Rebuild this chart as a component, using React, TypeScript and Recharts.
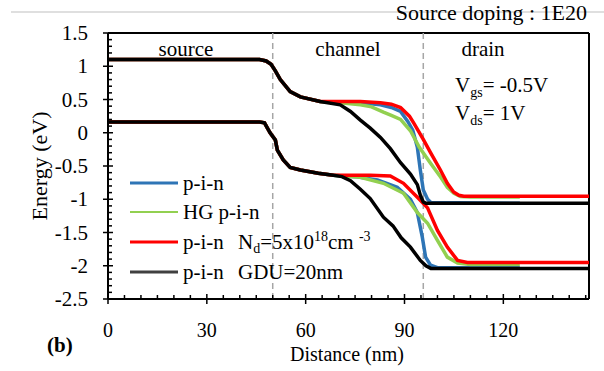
import { LineChart, Line, XAxis, YAxis, ReferenceLine } from "recharts";

const FONT = '"Liberation Serif", "Times New Roman", serif';

// distance (nm), energy (eV)
const cbShared = [[0, 1.1], [46, 1.1], [48, 1.08], [49.5, 1.03], [50.8, 0.93], [52.3, 0.8], [55.3, 0.62], [58.4, 0.54], [64.4, 0.47]];
const cbBlue = [[70.5, 0.46], [76.6, 0.45], [82.7, 0.42], [86, 0.38], [88.8, 0.32], [91, 0.17], [92.5, 0.04], [93.9, -0.22], [94.8, -0.56], [95.7, -0.86], [97, -1.0], [98, -1.05], [125, -1.06]];
const cbGreen = [[70.5, 0.45], [76.6, 0.42], [80, 0.39], [83.6, 0.31], [86, 0.26], [88.8, 0.2], [91.8, 0.03], [94.5, -0.22], [97.9, -0.46], [101, -0.67], [103, -0.82], [105, -0.91], [107, -0.96], [110, -0.965], [125, -0.965]];
const cbRed = [[70.5, 0.47], [76.6, 0.47], [82.7, 0.45], [86, 0.43], [88.8, 0.38], [91.5, 0.25], [93, 0.13], [95.7, -0.1], [97.9, -0.3], [100.9, -0.56], [103, -0.76], [104.9, -0.89], [106.5, -0.94], [108, -0.955], [146, -0.955]];
const cbBlack = [[70.5, 0.42], [73.6, 0.32], [76.6, 0.19], [79.6, 0.07], [82.7, -0.07], [85.7, -0.24], [88.8, -0.45], [91.8, -0.62], [93.9, -0.78], [94.8, -0.94], [95.7, -1.04], [96.5, -1.06], [146, -1.06]];

const vbShared = [[0, 0.16], [46, 0.16], [47.5, 0.15], [49.2, 0.0], [50.8, -0.11], [51.4, -0.26], [53.2, -0.41], [55.3, -0.52], [58.4, -0.56], [63.8, -0.61], [68.4, -0.64]];
const vbBlue = [[75, -0.66], [81.8, -0.71], [87.8, -0.82], [91.8, -1.0], [93.9, -1.2], [95.4, -1.57], [96.4, -1.87], [97.9, -1.99], [100, -2.03], [125, -2.03]];
const vbGreen = [[76.6, -0.67], [83.6, -0.76], [89.7, -0.91], [93.9, -1.2], [97, -1.36], [100, -1.62], [103, -1.87], [106.1, -1.96], [110, -1.98], [125, -1.98]];
const vbRed = [[73.6, -0.64], [79.6, -0.64], [85.7, -0.65], [89.7, -0.76], [93.9, -0.97], [97, -1.13], [100, -1.47], [103, -1.72], [106.1, -1.92], [109.1, -1.95], [146, -1.95]];
const vbBlack = [[71, -0.66], [73.6, -0.72], [76.6, -0.85], [79.6, -0.99], [83.6, -1.27], [86.5, -1.4], [89, -1.58], [91.8, -1.72], [94.8, -1.92], [96.5, -2.0], [98, -2.04], [146, -2.04]];

const regionEdges = [50, 95.7];
const xMajor = [0, 30, 60, 90, 120];
const yMajor = [-2.5, -2, -1.5, -1, -0.5, 0, 0.5, 1, 1.5];

const xTicks = Array.from({ length: 30 }, (_, i) => i * 5);
const yTicks = Array.from({ length: 41 }, (_, i) => Math.round((-2.5 + i * 0.1) * 10) / 10);

const pts = (...parts: number[][][]) => parts.flat().map(([d, e]) => ({ d, e }));

const series = [
  { key: "cb-blue", data: pts(cbShared, cbBlue), color: "#2e75b6" },
  { key: "vb-blue", data: pts(vbShared, vbBlue), color: "#2e75b6" },
  { key: "cb-green", data: pts(cbShared, cbGreen), color: "#92d050" },
  { key: "vb-green", data: pts(vbShared, vbGreen), color: "#92d050" },
  { key: "cb-red", data: pts(cbShared, cbRed), color: "#ff0000" },
  { key: "vb-red", data: pts(vbShared, vbRed), color: "#ff0000" },
  { key: "cb-black", data: pts(cbShared, cbBlack), color: "#000000" },
  { key: "vb-black", data: pts(vbShared, vbBlack), color: "#000000" },
];

function XTick({ x, y, payload }: any) {
  const v = payload.value;
  if (!xMajor.includes(v)) {
    return <line x1={x} x2={x} y1={y - 4} y2={y} stroke="#000" strokeWidth={1.5} />;
  }
  return (
    <g>
      <line x1={x} x2={x} y1={y - 5} y2={y + 5} stroke="#000" strokeWidth={1.5} />
      <text x={x} y={y + 38} textAnchor="middle" fontFamily={FONT} fontSize={20} fill="#000">
        {v}
      </text>
    </g>
  );
}

function YTick({ x, y, payload }: any) {
  const v = payload.value;
  if (!yMajor.includes(v)) {
    return <line x1={x} x2={x + 4} y1={y} y2={y} stroke="#000" strokeWidth={1.5} />;
  }
  return (
    <g>
      <line x1={x - 5} x2={x + 5} y1={y} y2={y} stroke="#000" strokeWidth={1.5} />
      <text x={x - 20} y={y + 7} textAnchor="end" fontFamily={FONT} fontSize={21} fill="#000">
        {v}
      </text>
    </g>
  );
}

const legendRows = [
  { y: 183, color: "#2e75b6", width: 3 },
  { y: 212, color: "#92d050", width: 2 },
  { y: 242, color: "#ff0000", width: 3 },
  { y: 272, color: "#404040", width: 3 },
];

export default function App() {
  return (
    <div style={{ position: "absolute", left: 0, top: 0, width: 604, height: 371, background: "#fff" }}>
      <LineChart width={604} height={371} margin={{ top: 33, right: 15, bottom: 40, left: 0 }}>
        <XAxis
          dataKey="d"
          type="number"
          domain={[0, 146]}
          ticks={xTicks}
          interval={0}
          allowDataOverflow
          height={32}
          tickSize={0}
          tickMargin={0}
          tickLine={false}
          axisLine={{ stroke: "#000", strokeWidth: 2 }}
          tick={<XTick />}
        />
        <YAxis
          dataKey="e"
          type="number"
          domain={[-2.5, 1.5]}
          ticks={yTicks}
          interval={0}
          allowDataOverflow
          width={108}
          tickSize={0}
          tickMargin={0}
          tickLine={false}
          axisLine={{ stroke: "#000", strokeWidth: 2 }}
          tick={<YTick />}
        />
        <ReferenceLine y={1.5} stroke="#000" strokeWidth={2} />
        <ReferenceLine x={146} stroke="#000" strokeWidth={2} />
        {regionEdges.map((x) => (
          <ReferenceLine key={x} x={x} stroke="#a6a6a6" strokeWidth={1.5} strokeDasharray="6 4" />
        ))}
        {series.map((s) => (
          <Line
            key={s.key}
            data={s.data}
            dataKey="e"
            type="linear"
            stroke={s.color}
            strokeWidth={3.5}
            dot={false}
            isAnimationActive={false}
          />
        ))}
      </LineChart>
      <svg
        width={604}
        height={371}
        style={{ position: "absolute", left: 0, top: 0, pointerEvents: "none" }}
        fontFamily={FONT}
        fill="#000"
      >
        <line x1={11} x2={604} y1={12} y2={12} stroke="#bfbfbf" strokeWidth={1} />
        <text x={587} y={20} textAnchor="end" fontSize={22}>
          Source doping : 1E20
        </text>
        <text x={186} y={56} textAnchor="middle" fontSize={21}>source</text>
        <text x={348} y={56} textAnchor="middle" fontSize={21}>channel</text>
        <text x={483} y={56} textAnchor="middle" fontSize={21}>drain</text>
        <text x={455} y={92} fontSize={21}>
          V<tspan fontSize={14} dy={5}>gs</tspan>
          <tspan dy={-5}>= -0.5V</tspan>
        </text>
        <text x={455} y={120} fontSize={21}>
          V<tspan fontSize={14} dy={5}>ds</tspan>
          <tspan dy={-5}>= 1V</tspan>
        </text>
        {legendRows.map((r) => (
          <line key={r.y} x1={130} x2={178} y1={r.y} y2={r.y} stroke={r.color} strokeWidth={r.width} />
        ))}
        <text x={183} y={190} fontSize={21}>p-i-n</text>
        <text x={183} y={219} fontSize={21}>HG p-i-n</text>
        <text x={183} y={249} fontSize={21}>
          p-i-n  <tspan x={238}>N</tspan>
          <tspan fontSize={14} dy={4}>d</tspan>
          <tspan dy={-4}>=5x10</tspan>
          <tspan fontSize={14} dy={-8}>18</tspan>
          <tspan dy={8}>cm </tspan>
          <tspan fontSize={14} dy={-8}>-3</tspan>
        </text>
        <text x={183} y={279} fontSize={21}>
          p-i-n  <tspan x={238}>GDU=20nm</tspan>
        </text>
        <text x={40} y={166} textAnchor="middle" fontSize={22} transform="rotate(-90 40 166)" dy={7}>
          Energy (eV)
        </text>
        <text x={347} y={361} textAnchor="middle" fontSize={20}>Distance (nm)</text>
        <text x={47} y={352} fontSize={21} fontWeight="bold">(b)</text>
      </svg>
    </div>
  );
}
